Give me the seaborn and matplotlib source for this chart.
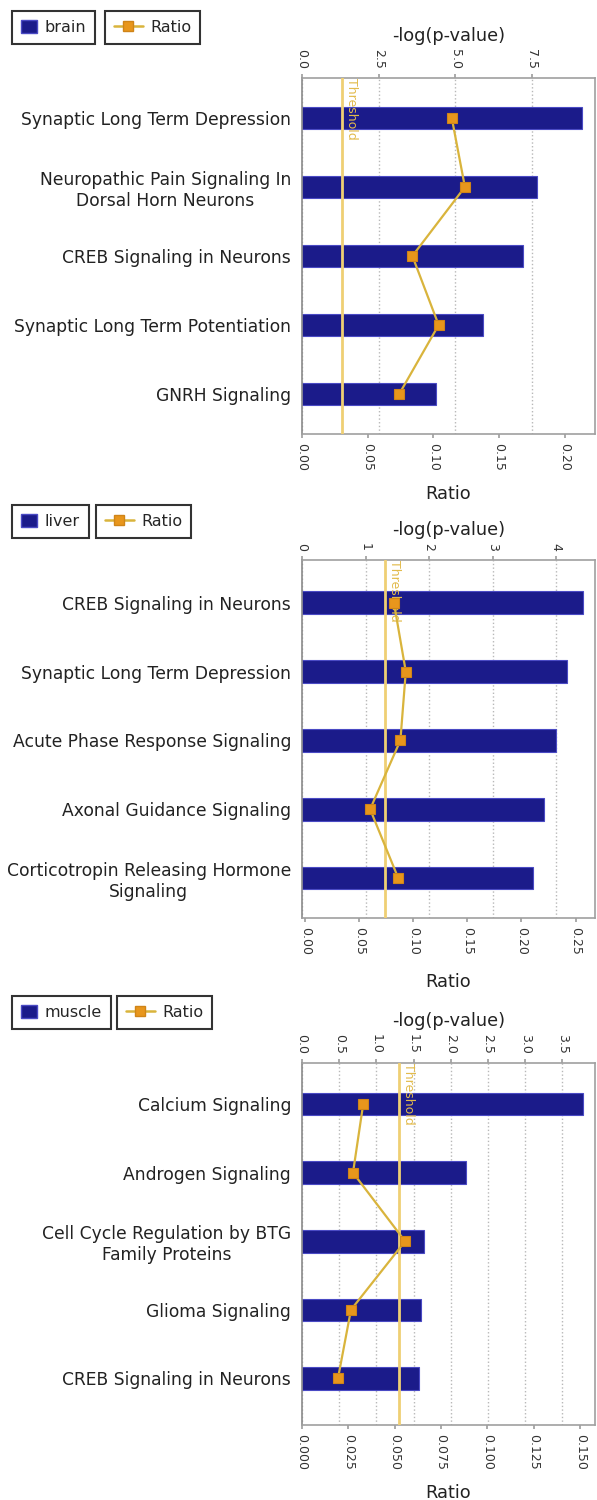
import matplotlib
matplotlib.use("Agg")
import matplotlib.pyplot as plt
import numpy as np
import seaborn as sns
from matplotlib.ticker import MultipleLocator, FormatStrFormatter
from matplotlib.patches import Patch
from matplotlib.lines import Line2D

# pathways per tissue, -log(p-value) (bars) and ratio (line)
brain_terms = ["Synaptic Long Term Depression",
               "Neuropathic Pain Signaling In\nDorsal Horn Neurons",
               "CREB Signaling in Neurons",
               "Synaptic Long Term Potentiation",
               "GNRH Signaling"]
brain_logp = [9.15, 7.68, 7.22, 5.92, 4.38]
brain_ratio = [0.114, 0.124, 0.084, 0.104, 0.074]

liver_terms = ["CREB Signaling in Neurons",
               "Synaptic Long Term Depression",
               "Acute Phase Response Signaling",
               "Axonal Guidance Signaling",
               "Corticotropin Releasing Hormone\nSignaling"]
liver_logp = [4.42, 4.17, 4.00, 3.80, 3.64]
liver_ratio = [0.082, 0.093, 0.088, 0.060, 0.086]

muscle_terms = ["Calcium Signaling",
                "Androgen Signaling",
                "Cell Cycle Regulation by BTG\nFamily Proteins",
                "Glioma Signaling",
                "CREB Signaling in Neurons"]
muscle_logp = [3.78, 2.21, 1.64, 1.60, 1.57]
muscle_ratio = [0.033, 0.0275, 0.0556, 0.0264, 0.0194]

threshold = 1.3

BAR = "#1b1b8a"
LINE = "#d9b43c"
MARK = "#e8961c"
THR = "#efcf74"
GREY = "#a0a0a0"

sns.set_theme(style="white")
plt.rcParams["font.family"] = ["DejaVu Sans"]

W, H = 597, 1500
fig = plt.figure(figsize=(W / 100, H / 100), dpi=100)


def draw_panel(top, bottom, tissue, terms, logp, ratio, top_step, top_fmt, top_lim,
               bot_step, bot_fmt, bot_lim, ylim, leg_x2, leg_y, ratio_pad):
    ax = fig.add_axes([302 / W, 1 - bottom / H, 293 / W, (bottom - top) / H])
    ax2 = ax.twiny()

    sns.barplot(x=logp, y=terms, ax=ax, color=BAR, orient="h", width=0.33,
                edgecolor="#4a4ac4", linewidth=0.8, saturation=1)
    ax.set_axisbelow(True)
    ax.grid(axis="x", linestyle=":", color="#b8b8b8", linewidth=1)
    ax.grid(axis="y", visible=False)
    ax.axvline(threshold, color=THR, lw=2.0, zorder=3)
    ax.text(threshold + top_lim[1] * 0.012, ylim[1], "Threshold", rotation=270,
            color="#e2bb4c", fontsize=9, va="top", ha="left", zorder=3)
    ax.set_xlim(*top_lim)
    ax.set_ylim(*ylim)
    ax.xaxis.set_major_locator(MultipleLocator(top_step))
    ax.xaxis.set_major_formatter(FormatStrFormatter(top_fmt))
    ax.xaxis.tick_top()
    ax.xaxis.set_label_position("top")
    ax.set_xlabel("-log(p-value)", fontsize=12.8, color="#222222", labelpad=6)
    ax.set_ylabel("")
    ax.tick_params(axis="x", which="both", top=True, bottom=False, labeltop=True,
                   labelbottom=False, rotation=270, length=3, color=GREY,
                   labelsize=9, labelcolor="#333333")
    ax.tick_params(axis="y", length=0, labelsize=12.3, labelcolor="#222222", pad=8)
    for lab in ax.get_yticklabels():
        lab.set_multialignment("center")
    for s in ax.spines.values():
        s.set_color(GREY)
        s.set_linewidth(1.2)
    ax.spines["left"].set_color("#8a8a8a")

    pos = np.arange(len(terms))
    sns.lineplot(x=ratio, y=pos, ax=ax2, sort=False, orient="y", color=LINE,
                 linewidth=1.6, marker="s", markersize=7.5, markerfacecolor=MARK,
                 markeredgecolor="#cf8418", markeredgewidth=0.8)
    ax2.set_xlim(*bot_lim)
    ax2.set_ylim(*ylim)
    ax2.xaxis.set_major_locator(MultipleLocator(bot_step))
    ax2.xaxis.set_major_formatter(FormatStrFormatter(bot_fmt))
    ax2.xaxis.tick_bottom()
    ax2.xaxis.set_label_position("bottom")
    ax2.set_xlabel("Ratio", fontsize=12.8, color="#222222", labelpad=ratio_pad)
    ax2.set_ylabel("")
    ax2.tick_params(axis="x", bottom=True, top=False, labelbottom=True, labeltop=False,
                    rotation=270, length=3, color=GREY, labelsize=9,
                    labelcolor="#333333")
    for s in ax2.spines.values():
        s.set_visible(False)

    leg_kw = dict(loc="upper left", frameon=True, fancybox=False, edgecolor="black",
                  fontsize=11.5, borderaxespad=0, handlelength=1.0, handletextpad=0.5,
                  borderpad=0.55)
    l1 = fig.legend(handles=[Patch(facecolor=BAR, edgecolor="#4a4ac4")], labels=[tissue],
                    bbox_to_anchor=(12 / W, 1 - leg_y / H), handleheight=0.9, **leg_kw)
    l1.get_frame().set_linewidth(1.5)
    leg_kw["handlelength"] = 1.8
    l2 = fig.legend(handles=[Line2D([0], [0], color=LINE, lw=1.8, marker="s", ms=7,
                                    markerfacecolor=MARK, markeredgecolor="#cf8418")],
                    labels=["Ratio"], bbox_to_anchor=(leg_x2 / W, 1 - leg_y / H), **leg_kw)
    l2.get_frame().set_linewidth(1.5)


draw_panel(78, 434, "brain", brain_terms, brain_logp, brain_ratio,
           2.5, "%.1f", (0, 9.57), 0.05, "%.2f", (0, 0.223), (4.58, -0.58), 105, 11, 10)
draw_panel(560, 918, "liver", liver_terms, liver_logp, liver_ratio,
           1, "%d", (0, 4.61), 0.05, "%.2f", (-0.003, 0.268), (4.58, -0.62), 96, 505, 13)
draw_panel(1063, 1425, "muscle", muscle_terms, muscle_logp, muscle_ratio,
           0.5, "%.1f", (0, 3.94), 0.025, "%.3f", (0, 0.158), (4.68, -0.60), 117, 996, 10)

fig.savefig("out.png", dpi=100)
